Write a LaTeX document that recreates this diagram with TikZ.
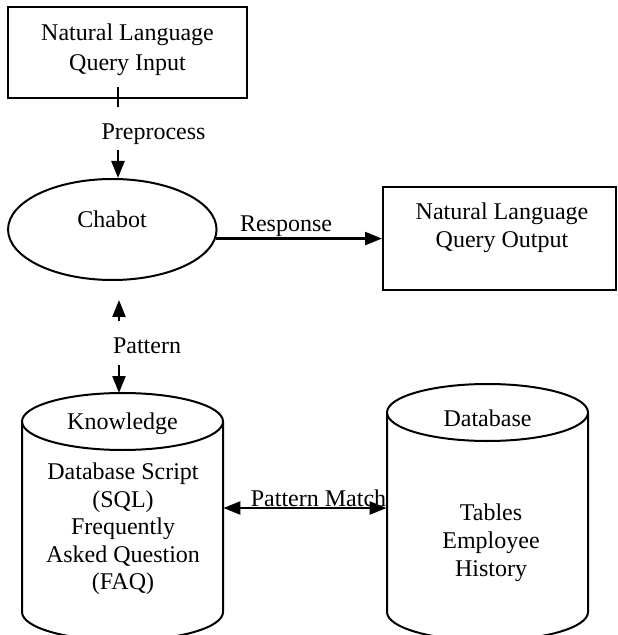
\documentclass[tikz,border=0pt]{standalone}
\usepackage{fontspec}
\setmainfont{Liberation Serif}
\usetikzlibrary{arrows.meta,shapes.geometric}
\tikzset{
  box/.style={draw, line width=1pt, rectangle, inner sep=0pt},
  oval/.style={draw, line width=1pt, ellipse, inner sep=0pt},
  hull/.style={inner sep=0pt},
  txt/.style={align=center, inner sep=0pt, font=\fontsize{12}{#1}\selectfont},
  txt/.default=14pt,
  tank/.style={line width=1pt},
  tip/.style={Triangle[length=8.5pt,width=6.5pt]},
  flow/.style={line width=1.2pt, -{Triangle[length=8.5pt,width=6.5pt]}},
  twoway/.style={line width=1.2pt, {Triangle[length=8.5pt,width=6.5pt]}-{Triangle[length=8.5pt,width=6.5pt]}},
}
\begin{document}
\begin{tikzpicture}[x=0.5pt, y=-0.5pt]
\useasboundingbox (0,0) rectangle (617,635);

% input box
\node[box, minimum width=119.5pt, minimum height=45.5pt] (inbox) at (127.5,52.5) {};
\node[txt=15pt] (intext) at (127.5,50) {Natural Language\\Query Input};

% chatbot
\node[oval, minimum width=104.25pt, minimum height=50.5pt] (chabot) at (112.3,229.5) {};
\node[txt] (chabottext) at (112,219) {Chabot};

% output box
\node[box, minimum width=116.25pt, minimum height=51.5pt] (outbox) at (499.25,238.5) {};
\node[txt] (outtext) at (502,228) {Natural Language\\Query Output};

% knowledge base cylinder
\draw[tank] (122.5,421.5) ellipse [x radius=100.5, y radius=28.5];
\draw[tank] (22,421.5) -- (22,612) .. controls (22,627.7) and (67,640.5) .. (122.5,640.5)
  .. controls (178,640.5) and (223,627.7) .. (223,612) -- (223,421.5);
\node[hull, minimum width=100.5pt, minimum height=109.5pt] (kb) at (122.5,502.5) {};
\coordinate (kbtop) at (122.5,393);
\node[txt] (kbtitle) at (122.5,424) {Knowledge};
\node[txt=13.75pt] (kbtext) at (123,529) {Database Script\\(SQL)\\Frequently\\Asked Question\\(FAQ)};

% database cylinder
\draw[tank] (487.5,412.5) ellipse [x radius=100.5, y radius=28.5];
\draw[tank] (387,412.5) -- (387,612) .. controls (387,627.7) and (432,640.5) .. (487.5,640.5)
  .. controls (543,640.5) and (588,627.7) .. (588,612) -- (588,412.5);
\node[hull, minimum width=100.5pt, minimum height=114pt] (db) at (487.5,498) {};
\node[txt] (dbtitle) at (487.5,418) {Database};
\node[txt] (dbtext) at (491,543) {Tables\\Employee\\History};

% connectors
\coordinate (ticktop) at (118,87);
\coordinate (tickbot) at (118,107);
\draw[line width=1pt] (ticktop) -- (tickbot);
\node[txt] (prelbl) at (153.5,134) {Preprocess};
\coordinate (prestart) at (118,150);
\draw[flow] (prestart) -- (prestart |- chabot.north);

\draw[flow] (chabot.-5.3) -- (chabot.-5.3 -| outbox.west);
\node[txt] (resplbl) at (286,226) {Response};

\coordinate (upstart) at (119,321);
\coordinate (uptip) at (119,300);
\draw[flow] (upstart) -- (uptip);
\node[txt] (patlbl) at (147,346) {Pattern};
\coordinate (downstart) at (119,365);
\draw[flow] (downstart) -- (downstart |- kbtop);

\coordinate (pm) at (300,508);
\draw[twoway] (kb.east |- pm) -- (db.west |- pm);
\node[txt] (pmlbl) at (318.5,498) {Pattern Match};
\end{tikzpicture}
\end{document}
